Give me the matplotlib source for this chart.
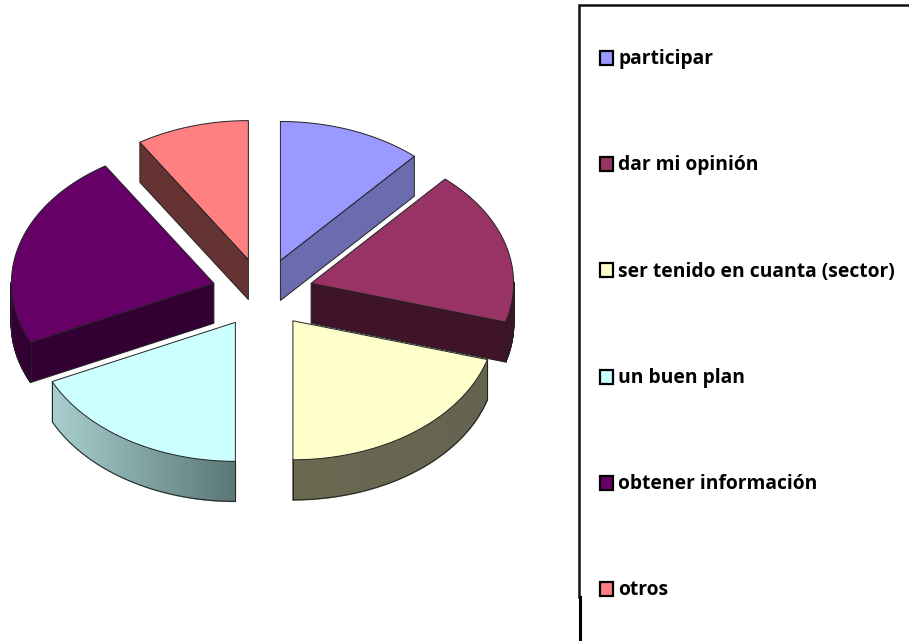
import numpy as np
import matplotlib
matplotlib.use("Agg")
import matplotlib.pyplot as plt
from matplotlib.patches import Polygon, Rectangle
from matplotlib.colors import to_rgb

categories = ["participar", "dar mi opinión", "ser tenido en cuanta (sector)",
              "un buen plan", "obtener información", "otros"]
values = [11.5, 18.0, 20.5, 18.0, 23.0, 9.0]
top_colors = ["#9999FF", "#993366", "#FFFFCC", "#CCFFFF", "#660066", "#FF8080"]
cut_colors = ["#6B6BB0", "#3F1428", "#66664F", "#5B7777", "#330033", "#663333"]
rim_left = ["#6B6BB0", "#3F1428", "#6A6A52", "#A8CFCF", "#330033", "#663333"]
rim_right = ["#6B6BB0", "#3F1428", "#636350", "#5A7676", "#330033", "#663333"]
draw_order = [5, 0, 4, 1, 3, 2]

CX, CY = 262.5, 293
RX, RY = 202.5, 139
DEPTH = 40
EXPLODE = 0.25
EDGE = "#222222"

fig = plt.figure(figsize=(9.09, 6.41), dpi=100)
ax = fig.add_axes([0, 0, 1, 1])
ax.set_xlim(0, 909)
ax.set_ylim(641, 0)
ax.axis("off")

edges = np.radians(np.concatenate([[0], np.cumsum(values)]) / np.sum(values) * 360)


def lerp(c1, c2, t):
    a, b = np.array(to_rgb(c1)), np.array(to_rgb(c2))
    return tuple(a + (b - a) * t)


for i in draw_order:
    t0, t1 = edges[i], edges[i + 1]
    mid = (t0 + t1) / 2
    ax0 = CX + EXPLODE * RX * np.sin(mid)
    ay0 = CY - EXPLODE * RY * np.cos(mid)
    th = np.linspace(t0, t1, 120)
    xs = ax0 + RX * np.sin(th)
    ys = ay0 - RY * np.cos(th)

    # cut faces that turn towards the viewer
    for k, visible in ((0, np.sin(t0) < -1e-6), (-1, np.sin(t1) > 1e-6)):
        if visible:
            face = [(ax0, ay0), (xs[k], ys[k]), (xs[k], ys[k] + DEPTH), (ax0, ay0 + DEPTH)]
            ax.add_patch(Polygon(face, closed=True, fc=cut_colors[i], ec=EDGE, lw=0.7))

    # outer rim (only the front half of the ellipse can be seen)
    front = np.cos(th) <= 0.02
    if front.any():
        fx, fy = xs[front], ys[front]
        lo, hi = fx.min(), fx.max()
        for j in range(len(fx) - 1):
            u = (0.5 * (fx[j] + fx[j + 1]) - lo) / max(hi - lo, 1)
            col = lerp(rim_left[i], rim_right[i], u)
            quad = [(fx[j], fy[j]), (fx[j + 1], fy[j + 1]),
                    (fx[j + 1], fy[j + 1] + DEPTH), (fx[j], fy[j] + DEPTH)]
            ax.add_patch(Polygon(quad, closed=True, fc=col, ec=col, lw=1.1))
        ax.add_patch(Polygon(np.column_stack([fx, fy + DEPTH]), closed=False, fill=False,
                             ec=EDGE, lw=0.7))
        for px in (0, -1):
            ax.add_patch(Polygon([(fx[px], fy[px]), (fx[px], fy[px] + DEPTH)], closed=False,
                                 fill=False, ec=EDGE, lw=0.7))

    # top face
    top = np.column_stack([np.r_[ax0, xs], np.r_[ay0, ys]])
    ax.add_patch(Polygon(top, closed=True, fc=top_colors[i], ec=EDGE, lw=0.7))

# legend frame
ax.plot([579, 579, 909], [597, 5.2, 5.2], color="#111111", lw=1.8, solid_joinstyle="miter")
ax.plot([580, 580], [597, 641], color="black", lw=2.2)

# legend entries
legend_top = 58
legend_step = 106.2
for i, (name, col) in enumerate(zip(categories, top_colors)):
    y = legend_top + legend_step * i
    ax.add_patch(Rectangle((599.5, y - 7), 13, 14, fc=col, ec="black", lw=1.6, zorder=4))
    ax.text(618.5, y + 1.2, name, fontsize=13.9, fontweight="bold", family="Open Sans",
            color="black", va="center", ha="left", zorder=4)

fig.savefig("out.png", dpi=100)
